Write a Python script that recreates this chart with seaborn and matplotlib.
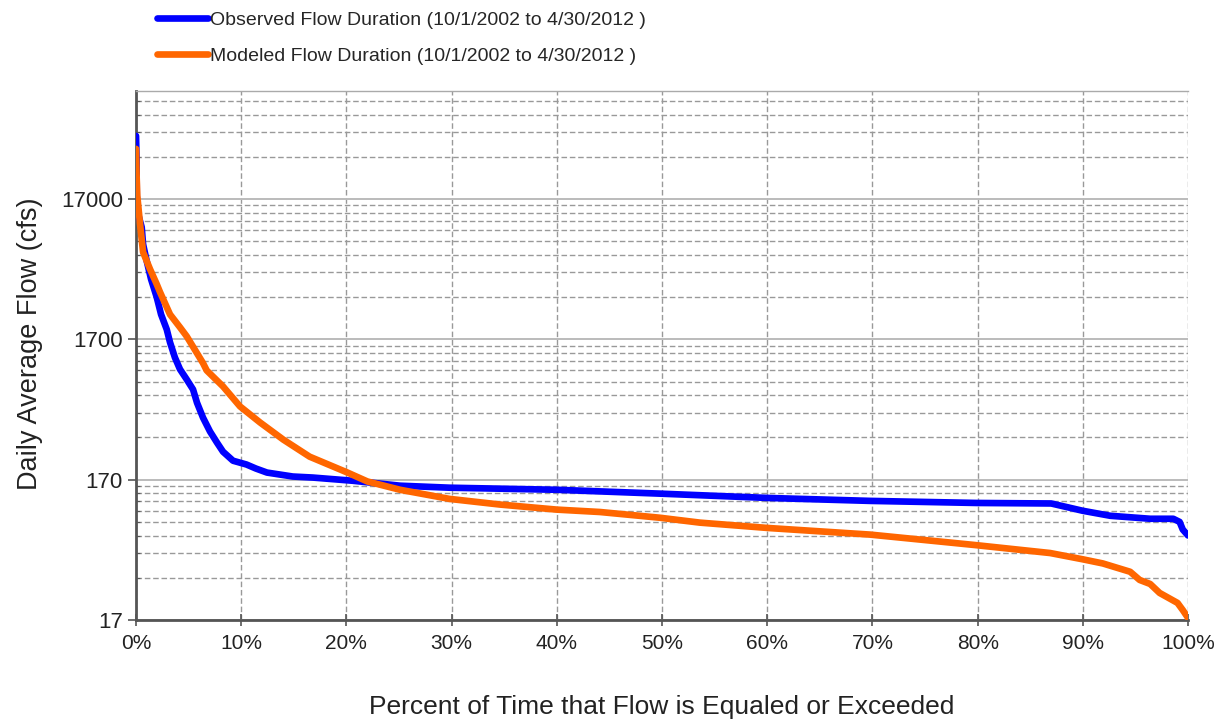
import numpy as np
import pandas as pd
import matplotlib
matplotlib.use("Agg")
import matplotlib.pyplot as plt
from matplotlib.ticker import FixedLocator, FuncFormatter, NullFormatter
import seaborn as sns

# observed flow duration curve (percent exceedance, cfs)
obs_pct = [0, 0.05, 0.07, 0.2, 0.54, 0.67, 1.02, 1.43, 1.97, 2.38, 2.92, 3.23, 3.7, 4.18,
           4.82, 5.42, 5.8, 6.37, 7.03, 7.7, 8.27, 9.22, 10.5, 11.4, 12.45, 14.9, 16.8,
           20.6, 25.1, 29.8, 40.0, 50.0, 60.0, 69.8, 79.9, 87.0, 90.0, 92.6, 96.4, 98.6,
           99.2, 99.5, 100]
obs_flow = [47900, 32800, 17900, 13300, 10700, 8100, 6130, 4560, 3390, 2560, 2000, 1620,
            1260, 1040, 880, 747, 600, 470, 375, 312, 269, 232, 218, 204, 191, 179, 176,
            167, 154, 149, 144, 135, 126, 120, 116, 115, 102, 94, 89.5, 89.5, 85, 75, 68]

# modeled flow duration curve
mod_pct = [0, 0.05, 0.12, 0.38, 0.67, 1.02, 1.33, 1.97, 2.28, 3.23, 4.18, 4.82, 6.37, 6.72,
           8.27, 9.89, 11.8, 14.0, 16.5, 20.1, 22.0, 25.1, 29.8, 34.6, 40.0, 44.1, 49.8,
           53.6, 60.0, 69.8, 79.9, 86.9, 90.0, 91.9, 94.5, 95.4, 96.4, 97.3, 99.0, 99.5, 100]
mod_flow = [38700, 25700, 17900, 11300, 7110, 6130, 5380, 4200, 3690, 2560, 2070, 1785,
            1150, 1020, 785, 565, 434, 328, 248, 191, 165, 144, 124, 113, 104, 100, 91,
            84, 77, 69, 58, 51, 46, 43, 37.5, 32.8, 30.7, 26.5, 22.5, 20, 17.6]

obs_label = "Observed Flow Duration (10/1/2002 to 4/30/2012 )"
mod_label = "Modeled Flow Duration (10/1/2002 to 4/30/2012 )"

y_ticks = [17, 170, 1700, 17000]
x_ticks = list(range(0, 101, 10))

df = pd.concat([
    pd.DataFrame({"pct": obs_pct, "flow": obs_flow, "series": obs_label}),
    pd.DataFrame({"pct": mod_pct, "flow": mod_flow, "series": mod_label}),
])

sns.set_style("white")
plt.rcParams["font.family"] = ["Liberation Sans", "DejaVu Sans"]

fig = plt.figure(figsize=(12.21, 7.19), dpi=100)
ax = fig.add_axes([0.1114, 0.1377, 0.8616, 0.7357])

sns.lineplot(data=df, x="pct", y="flow", hue="series", estimator=None, sort=False,
             palette={obs_label: "#0000FF", mod_label: "#FF6600"},
             linewidth=4.8, ax=ax, zorder=5)

ax.set_yscale("log")
ax.set_ylim(17, 100000)
ax.set_xlim(0, 100)

minor = [17 * k * 10 ** n for n in range(4) for k in range(2, 10) if 17 * k * 10 ** n < 100000]
ax.yaxis.set_major_locator(FixedLocator(y_ticks))
ax.yaxis.set_major_formatter(FuncFormatter(lambda v, p: f"{v:g}"))
ax.yaxis.set_minor_locator(FixedLocator(minor))
ax.yaxis.set_minor_formatter(NullFormatter())
ax.xaxis.set_major_locator(FixedLocator(x_ticks))
ax.xaxis.set_major_formatter(FuncFormatter(lambda v, p: f"{v:.0f}%"))

ax.grid(True, which="major", axis="y", color="#BBBBBB", linestyle="-", linewidth=1.4)
ax.grid(True, which="minor", axis="y", color="#999999", linestyle=(0, (4, 2)), linewidth=1.0)
ax.grid(True, which="major", axis="x", color="#999999", linestyle=(0, (4, 2)), linewidth=1.0)

for side in ["left", "bottom"]:
    ax.spines[side].set_color("#555555")
    ax.spines[side].set_linewidth(2)
ax.spines["top"].set_color("#AAAAAA")
ax.spines["top"].set_linewidth(1)
ax.spines["right"].set_visible(False)

ax.tick_params(axis="y", which="major", direction="out", length=6, width=1.2,
               color="#555555", labelsize=16, labelcolor="#222222", left=True)
ax.tick_params(axis="y", which="minor", direction="in", length=3, width=0.8,
               color="#555555", left=True)
ax.tick_params(axis="x", which="major", direction="inout", length=8, width=1.2,
               color="#555555", labelsize=15, labelcolor="#222222", bottom=True, pad=6)

ax.set_xlabel("Percent of Time that Flow is Equaled or Exceeded", fontsize=19,
              labelpad=30, color="#222222")
ax.set_ylabel("Daily Average Flow (cfs)", fontsize=19.5, color="#222222")
ax.yaxis.set_label_coords(-0.088, 0.522)

leg = ax.legend(loc="lower left", bbox_to_anchor=(0.013, 1.035), frameon=False,
                fontsize=14, handlelength=2.6, handletextpad=0.1, labelspacing=0.95,
                borderaxespad=0)
for line in leg.get_lines():
    line.set_linewidth(4.8)

fig.savefig("out.png", dpi=100)
